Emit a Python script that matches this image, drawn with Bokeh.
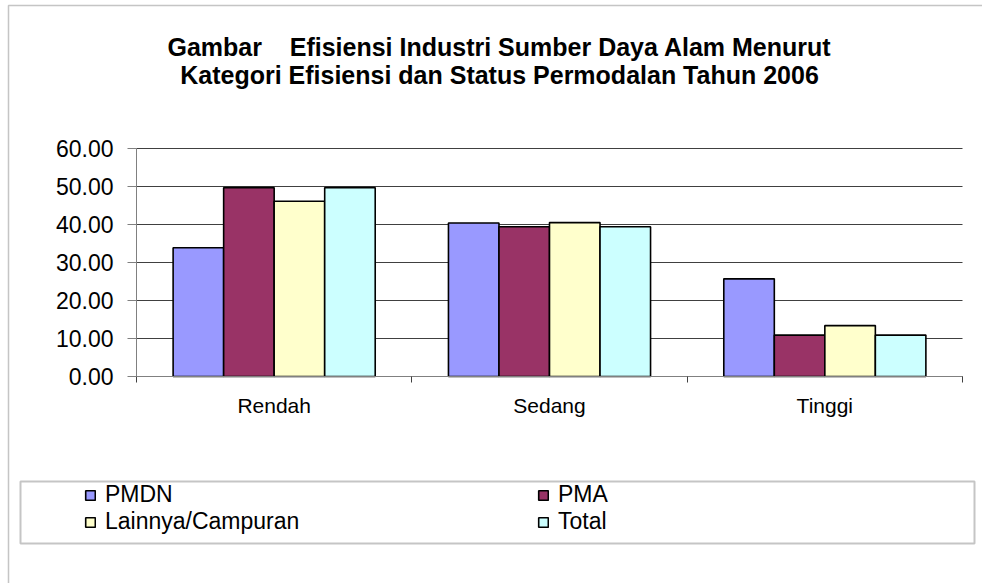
from bokeh.plotting import figure
from bokeh.models import (Range1d, FixedTicker, Legend, LegendItem, Label,
                          BoxAnnotation, ColumnDataSource, NumeralTickFormatter)
from bokeh.transform import dodge
from bokeh.embed import file_html
from bokeh.resources import INLINE

# ---- data ----
categories = ["Rendah", "Sedang", "Tinggi"]
series_names = ["PMDN", "PMA", "Lainnya/Campuran", "Total"]
pmdn = [33.9, 40.4, 25.7]
pma = [49.7, 39.4, 10.9]
lainnya = [46.1, 40.5, 13.4]
total = [49.7, 39.4, 10.9]
y_ticks = [0, 10, 20, 30, 40, 50, 60]
title_line1 = "Gambar\u00a0\u00a0\u00a0 Efisiensi Industri Sumber Daya Alam Menurut"
title_line2 = "Kategori Efisiensi dan Status Permodalan Tahun 2006"

# ---- layout / style ----
colors = ["#9999FF", "#993366", "#FFFFCC", "#CCFFFF"]
FONT = "Liberation Sans"
W, H = 982, 583
PLOT_L, PLOT_R, PLOT_T, PLOT_B = 136, 962, 148, 376   # pixel box of the bar area

n = len(categories)
ymax = y_ticks[-1]
sx = (PLOT_R - PLOT_L) / n
sy = (PLOT_B - PLOT_T) / ymax
x_range = Range1d(-PLOT_L / sx, n + (W - PLOT_R) / sx)
y_range = Range1d(-(H - PLOT_B) / sy, ymax + PLOT_T / sy)

centers = [i + 0.5 for i in range(n)]
bounds = [i for i in range(n + 1)]
src = ColumnDataSource(dict(xc=centers, PMDN=pmdn, PMA=pma,
                            Lainnya=lainnya, Total=total))
fields = ["PMDN", "PMA", "Lainnya", "Total"]

p = figure(width=W, height=H, x_range=x_range, y_range=y_range,
           toolbar_location=None, output_backend="svg",
           min_border=0, min_border_left=0, min_border_right=0,
           min_border_top=0, min_border_bottom=0)
p.outline_line_color = None
p.background_fill_color = "white"
p.border_fill_color = "white"
p.xgrid.visible = False
p.ygrid.visible = False

# horizontal gridlines at the y ticks, spanning the category area only
p.segment(x0=0, x1=n, y0=y_ticks, y1=y_ticks, line_color="#404040", line_width=1)

bw = 0.1835
offsets = [-1.5 * bw, -0.5 * bw, 0.5 * bw, 1.5 * bw]
renderers = []
for f, c, off in zip(fields, colors, offsets):
    r = p.vbar(x=dodge("xc", off), top=f, width=bw, source=src,
               fill_color=c, line_color="black", line_width=1.6)
    renderers.append(r)

# y axis drawn at x = 0
ya = p.yaxis[0]
ya.fixed_location = 0
ya.bounds = (0, ymax)
ya.ticker = FixedTicker(ticks=y_ticks)
ya.formatter = NumeralTickFormatter(format="0.00")
ya.major_tick_out = 9
ya.major_tick_in = 0
ya.minor_tick_out = 0
ya.minor_tick_in = 0
ya.major_label_standoff = 14
ya.major_label_text_font = FONT
ya.major_label_text_font_size = "23px"
ya.major_label_text_color = "black"
ya.axis_line_color = "#808080"
ya.major_tick_line_color = "#808080"

# x axis drawn at y = 0, ticks at category boundaries
xa = p.xaxis[0]
xa.fixed_location = 0
xa.bounds = (0, n)
xa.ticker = FixedTicker(ticks=centers, minor_ticks=bounds)
xa.major_label_overrides = {c: name for c, name in zip(centers, categories)}
xa.major_tick_out = 0
xa.major_tick_in = 0
xa.minor_tick_out = 6
xa.minor_tick_in = 0
xa.minor_tick_line_color = "#404040"
xa.major_label_standoff = 11
xa.major_label_text_font = FONT
xa.major_label_text_font_size = "21px"
xa.major_label_text_color = "black"
xa.axis_line_color = "#808080"

# outer chart frame (left and top edges visible)
p.add_layout(BoxAnnotation(left=8, right=W + 20, bottom=-20, top=H - 5,
                           left_units="screen", right_units="screen",
                           bottom_units="screen", top_units="screen",
                           fill_color=None, fill_alpha=0,
                           line_color="#404040", line_width=1.5))

# title (two centered lines)
for txt, yy in [(title_line1, H - 46), (title_line2, H - 74)]:
    p.add_layout(Label(x=499, y=yy, x_units="screen", y_units="screen", text=txt,
                       text_align="center", text_baseline="alphabetic",
                       text_font=FONT, text_font_style="bold",
                       text_font_size="25px", text_color="black"))

# legend box
p.add_layout(BoxAnnotation(left=20, right=974, bottom=H - 543, top=H - 481,
                           left_units="screen", right_units="screen",
                           bottom_units="screen", top_units="screen",
                           fill_color=None, fill_alpha=0,
                           line_color="#404040", line_width=2))

legend = Legend(items=[LegendItem(label=nm, renderers=[r]) for nm, r in zip(series_names, renderers)],
                orientation="horizontal", ncols=2, location=(84, H - 535),
                padding=0, margin=0, spacing=0,
                border_line_alpha=0, background_fill_alpha=0,
                glyph_width=12, glyph_height=12, label_standoff=9,
                label_width=432, label_height=26,
                label_text_font=FONT, label_text_font_size="23px",
                label_text_color="black")
p.add_layout(legend)

open("out.html", "w").write(file_html(p, INLINE))
